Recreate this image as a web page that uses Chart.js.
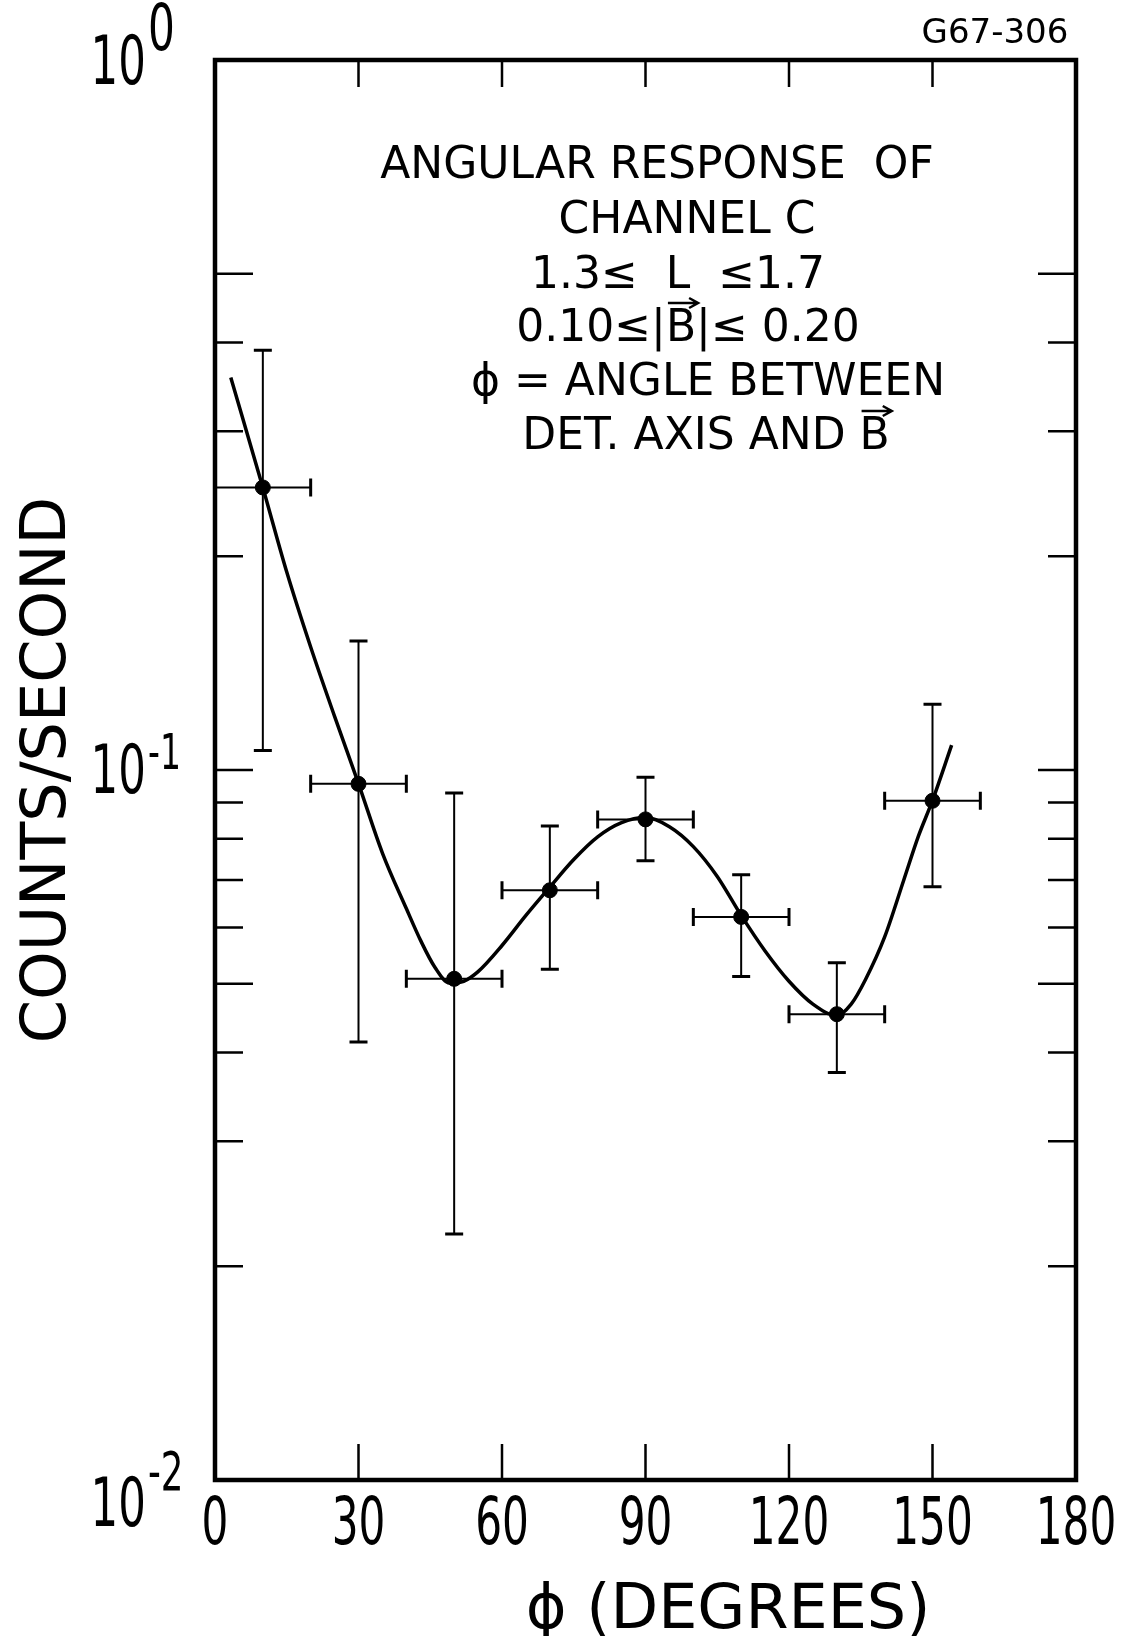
<!DOCTYPE html>
<html>
<head>
<meta charset="utf-8">
<script src="https://cdn.jsdelivr.net/npm/chart.js@4.4.1/dist/chart.umd.min.js"></script>
<style>
  html, body { margin: 0; padding: 0; background: #fff; }
  #wrap { width: 1143px; height: 1636px; }
</style>
</head>
<body>
<div id="wrap"><canvas id="myChart" width="1143" height="1636"></canvas></div>
<script>
// bin centres (degrees) and measured counting rates
const angles = [10, 30, 50, 70, 90, 110, 130, 150];
const rates = [0.250, 0.0956, 0.0508, 0.0677, 0.0852, 0.0621, 0.0453, 0.0905];
const rateLow = [0.1065, 0.0414, 0.0222, 0.0524, 0.0745, 0.0512, 0.0375, 0.0685];
const rateHigh = [0.390, 0.152, 0.0928, 0.0834, 0.0977, 0.0712, 0.0535, 0.1238];
const angleLow = [0, 20, 40, 60, 80, 100, 120, 140];
const angleHigh = [20, 40, 60, 80, 100, 120, 140, 160];

// hand drawn fit curve
const fitAngles = [3.3, 10, 15, 20, 25, 30, 35, 40, 43, 46, 49, 52, 55, 60, 65, 70, 75, 80, 85, 90,
  95, 100, 105, 110, 115, 120, 125, 130, 133, 136, 140, 144, 147, 150, 154];
const fitRates = [0.357, 0.250, 0.190, 0.149, 0.119, 0.0957, 0.0764, 0.0638, 0.0575, 0.0527, 0.0501,
  0.0504, 0.0520, 0.0566, 0.0624, 0.0684, 0.0748, 0.0805, 0.0843, 0.0857, 0.0832, 0.0780, 0.0708,
  0.0624, 0.0556, 0.0504, 0.0468, 0.0451, 0.0468, 0.0507, 0.0582, 0.0700, 0.0805, 0.0906, 0.1084];

const xTicks = [0, 30, 60, 90, 120, 150, 180];
const yTicks = [0.02, 0.03, 0.04, 0.05, 0.06, 0.07, 0.08, 0.09, 0.1, 0.2, 0.3, 0.4, 0.5];
const yLongTicks = [0.05, 0.1, 0.5];
const yDecades = [1, 0.1, 0.01];
const decadeExponents = ['0', '-1', '-2'];

const noteLines = [
  'ANGULAR RESPONSE  OF',
  'CHANNEL C',
  '1.3\u2264  L  \u22641.7',
  '0.10\u2264|B|\u2264 0.20',
  '\u03d5 = ANGLE BETWEEN',
  'DET. AXIS AND B'
];

const FONT = '"DejaVu Sans", "Liberation Sans", sans-serif';

// narrow lettering like the original drafting stencil
function narrowText(ctx, text, x, y, sx) {
  ctx.save();
  ctx.translate(x, y);
  ctx.scale(sx, 1);
  ctx.fillText(text, 0, 0);
  ctx.restore();
}

function arrowOver(ctx, x1, x2, y) {
  ctx.beginPath();
  ctx.moveTo(x1, y);
  ctx.lineTo(x2, y);
  ctx.moveTo(x2 - 9, y - 5);
  ctx.lineTo(x2, y);
  ctx.lineTo(x2 - 9, y + 5);
  ctx.stroke();
}

const paperAxes = {
  id: 'paperAxes',
  afterDatasetsDraw(chart) {
    const ctx = chart.ctx;
    const x = chart.scales.x;
    const y = chart.scales.y;
    const a = chart.chartArea;
    ctx.save();
    ctx.strokeStyle = '#000';
    ctx.fillStyle = '#000';
    ctx.lineCap = 'butt';

    // error bars
    ctx.lineWidth = 2;
    angles.forEach((ang, i) => {
      const px = x.getPixelForValue(ang);
      const py = y.getPixelForValue(rates[i]);
      const top = y.getPixelForValue(rateHigh[i]);
      const bot = y.getPixelForValue(rateLow[i]);
      const l = x.getPixelForValue(angleLow[i]);
      const r = x.getPixelForValue(angleHigh[i]);
      ctx.beginPath();
      ctx.moveTo(px, top); ctx.lineTo(px, bot);
      ctx.moveTo(l, py); ctx.lineTo(r, py);
      ctx.stroke();
      ctx.lineWidth = 3;
      ctx.beginPath();
      ctx.moveTo(px - 9, top); ctx.lineTo(px + 9, top);
      ctx.moveTo(px - 9, bot); ctx.lineTo(px + 9, bot);
      ctx.moveTo(l, py - 9); ctx.lineTo(l, py + 9);
      ctx.moveTo(r, py - 9); ctx.lineTo(r, py + 9);
      ctx.stroke();
      ctx.lineWidth = 2;
    });

    // frame
    ctx.lineWidth = 4.5;
    ctx.strokeRect(a.left, a.top, a.right - a.left, a.bottom - a.top);

    // inward ticks
    ctx.lineWidth = 2.5;
    ctx.beginPath();
    xTicks.slice(1, -1).forEach(v => {
      const px = x.getPixelForValue(v);
      ctx.moveTo(px, a.bottom); ctx.lineTo(px, a.bottom - 36);
      ctx.moveTo(px, a.top); ctx.lineTo(px, a.top + 27);
    });
    yTicks.forEach(v => {
      const py = y.getPixelForValue(v);
      const len = yLongTicks.includes(v) ? 38 : 28;
      ctx.moveTo(a.left, py); ctx.lineTo(a.left + len, py);
      ctx.moveTo(a.right, py); ctx.lineTo(a.right - len, py);
    });
    ctx.stroke();

    // x tick labels
    ctx.font = '66px ' + FONT;
    ctx.textAlign = 'center';
    ctx.textBaseline = 'middle';
    xTicks.forEach(v => {
      narrowText(ctx, String(v), x.getPixelForValue(v), a.bottom + 47, 0.64);
    });

    // decade labels 10^n
    const baseDy = [6, 5, 28];
    const expDy = [-27, -14, -4];
    const expSize = [64, 50, 54];
    yDecades.forEach((v, i) => {
      const py = y.getPixelForValue(v);
      ctx.font = '68px ' + FONT;
      ctx.textAlign = 'right';
      narrowText(ctx, '10', 146, py + baseDy[i], 0.64);
      ctx.font = expSize[i] + 'px ' + FONT;
      ctx.textAlign = 'left';
      narrowText(ctx, decadeExponents[i], 148, py + expDy[i], 0.66);
    });

    // x axis title
    ctx.font = '62px ' + FONT;
    ctx.textAlign = 'center';
    ctx.fillText('\u03d5 (DEGREES)', 728, 1612);

    // run number
    ctx.font = '34px ' + FONT;
    ctx.fillText('G67-306', 995, 34);

    // annotation block
    const noteX = [657, 687, 678, 688, 708, 706];
    const noteY = [167, 222, 277, 330, 384, 438];
    ctx.font = '44px ' + FONT;
    noteLines.forEach((t, i) => ctx.fillText(t, noteX[i], noteY[i]));

    // vector arrows over B
    ctx.lineWidth = 2.5;
    [[3, '0.10\u2264|', -27], [5, 'DET. AXIS AND ', -27]].forEach(([i, pre, dy]) => {
      const full = ctx.measureText(noteLines[i]).width;
      const left = noteX[i] - full / 2 + ctx.measureText(pre).width;
      const wB = ctx.measureText('B').width;
      arrowOver(ctx, left + 2, left + wB + 2, noteY[i] + dy);
    });

    ctx.restore();
  }
};

const ctx = document.getElementById('myChart').getContext('2d');
const myChart = new Chart(ctx, {
  type: 'scatter',
  data: {
    datasets: [
      {
        type: 'line',
        data: fitAngles.map((v, i) => ({ x: v, y: fitRates[i] })),
        borderColor: '#000',
        borderWidth: 3.5,
        pointRadius: 0,
        showLine: true,
        fill: false,
        cubicInterpolationMode: 'monotone'
      },
      {
        data: angles.map((v, i) => ({ x: v, y: rates[i] })),
        pointRadius: 7.5,
        backgroundColor: '#000',
        borderColor: '#000'
      }
    ]
  },
  options: {
    responsive: false,
    animation: false,
    layout: { padding: { top: 60, right: 67, left: 0, bottom: 0 } },
    plugins: {
      legend: { display: false },
      tooltip: { enabled: false }
    },
    scales: {
      x: {
        type: 'linear',
        min: 0,
        max: 180,
        grid: { display: false },
        border: { display: false },
        ticks: { display: false },
        afterFit: s => { s.height = 156; }
      },
      y: {
        type: 'logarithmic',
        min: 0.01,
        max: 1,
        grid: { display: false },
        border: { display: false },
        ticks: { display: false },
        title: {
          display: true,
          text: 'COUNTS/SECOND',
          color: '#000',
          font: { family: FONT, size: 62 },
          padding: { top: 12, bottom: 0 }
        },
        afterFit: s => { s.width = 215; }
      }
    }
  },
  plugins: [paperAxes]
});
</script>
</body>
</html>
